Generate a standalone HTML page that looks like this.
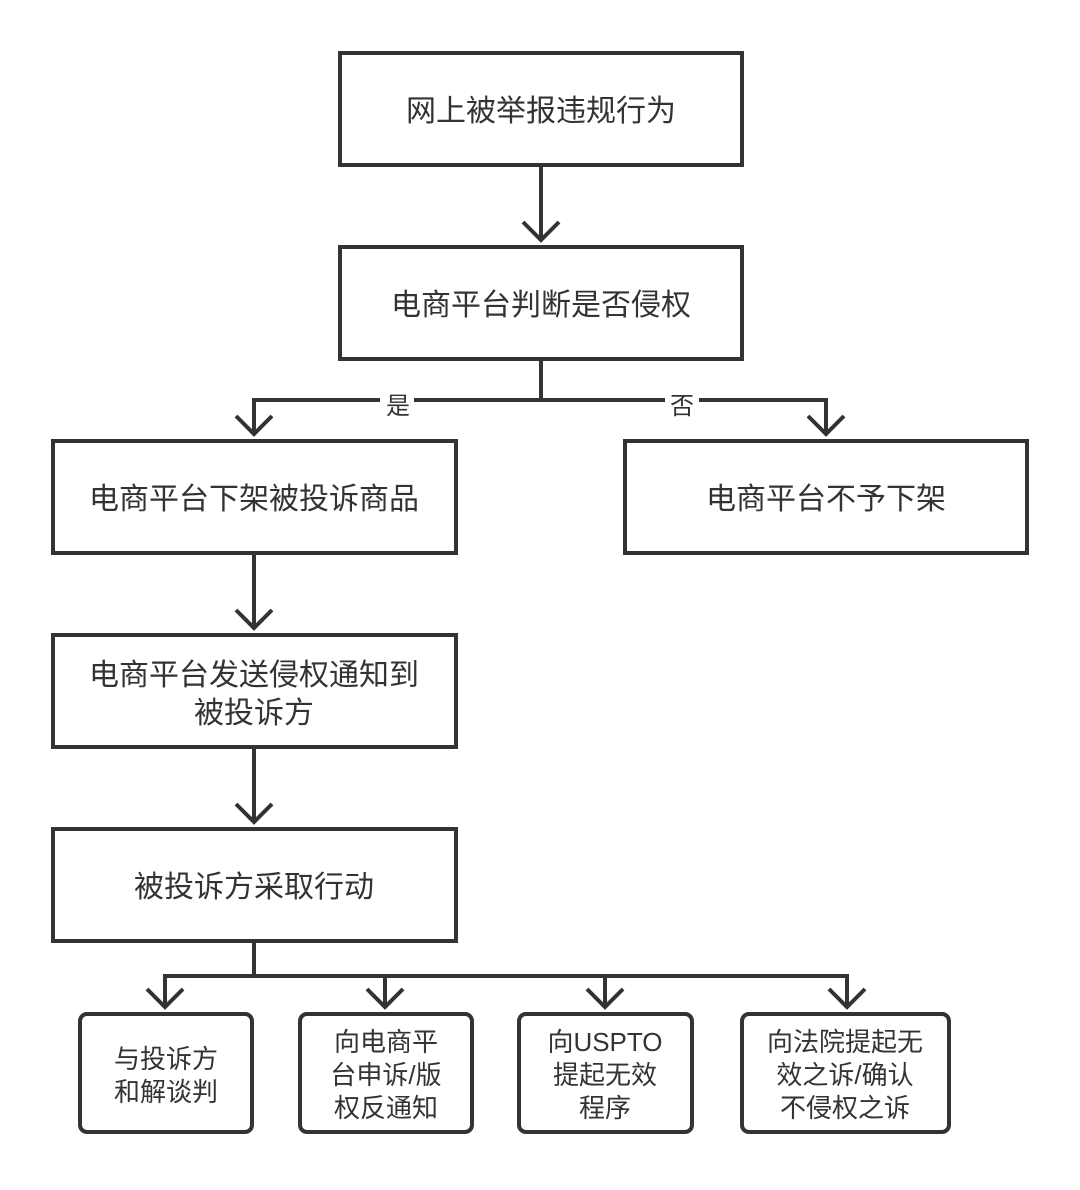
<!DOCTYPE html>
<html><head><meta charset="utf-8"><style>
body{margin:0;background:#fff;}
svg text{font-family:"Liberation Sans","Noto Sans CJK SC",sans-serif;fill:#333;text-anchor:middle;}
</style></head><body>
<svg width="1080" height="1185" viewBox="0 0 1080 1185" xmlns="http://www.w3.org/2000/svg">
<g fill="#fff" stroke="#333" stroke-width="4">
<rect x="340" y="53" width="402" height="112"/>
<rect x="340" y="247" width="402" height="112"/>
<rect x="53" y="441" width="403" height="112"/>
<rect x="625" y="441" width="402" height="112"/>
<rect x="53" y="635" width="403" height="112"/>
<rect x="53" y="829" width="403" height="112"/>
<rect x="80" y="1014" width="172" height="118" rx="7"/>
<rect x="300" y="1014" width="172" height="118" rx="7"/>
<rect x="519" y="1014" width="173" height="118" rx="7"/>
<rect x="742" y="1014" width="207" height="118" rx="7"/>
</g>
<g fill="none" stroke="#333" stroke-width="4">
<path d="M541 167V240M523 222L541 240L559 222"/>
<path d="M541 361V400H254V434M236 416L254 434L272 416"/>
<path d="M541 400H826V434M808 416L826 434L844 416"/>
<path d="M254 555V628M236 610L254 628L272 610"/>
<path d="M254 749V822M236 804L254 822L272 804"/>
<path d="M254 943V976H165V1007M147 989L165 1007L183 989"/>
<path d="M254 976H847V1007M829 989L847 1007L865 989"/>
<path d="M385 976V1007M367 989L385 1007L403 989"/>
<path d="M605 976V1007M587 989L605 1007L623 989"/>
</g>
<rect x="380" y="390" width="34" height="24" fill="#fff"/>
<rect x="665" y="390" width="34" height="24" fill="#fff"/>
<text x="398" y="414" font-size="24">是</text>
<text x="682" y="414" font-size="24">否</text>
<g font-size="30">
<text x="541" y="121">网上被举报违规行为</text>
<text x="541" y="315">电商平台判断是否侵权</text>
<text x="254" y="509">电商平台下架被投诉商品</text>
<text x="826" y="509">电商平台不予下架</text>
<text x="254" y="685">电商平台发送侵权通知到</text>
<text x="254" y="723">被投诉方</text>
<text x="254" y="897">被投诉方采取行动</text>
</g>
<g font-size="26">
<text x="166" y="1068">与投诉方</text>
<text x="166" y="1101">和解谈判</text>
<text x="386" y="1051">向电商平</text>
<text x="386" y="1084">台申诉/版</text>
<text x="386" y="1117">权反通知</text>
<text x="605" y="1051">向USPTO</text>
<text x="605" y="1084">提起无效</text>
<text x="605" y="1117">程序</text>
<text x="845" y="1051">向法院提起无</text>
<text x="845" y="1084">效之诉/确认</text>
<text x="845" y="1117">不侵权之诉</text>
</g>
</svg>
</body></html>
